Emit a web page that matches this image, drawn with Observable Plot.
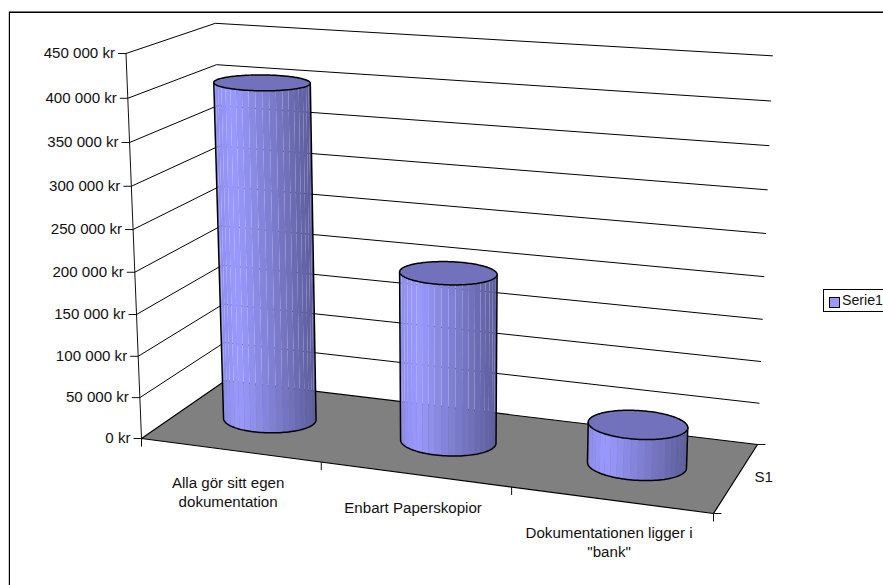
<!DOCTYPE html>
<html>
<head>
<meta charset="utf-8">
<script src="https://cdn.jsdelivr.net/npm/d3@7"></script>
<script src="https://cdn.jsdelivr.net/npm/@observablehq/plot@0.6"></script>
<style>
  html, body { margin: 0; padding: 0; background: #fff; overflow: hidden; }
  body { width: 883px; height: 585px; position: relative; font-family: "Liberation Sans", Arial, sans-serif; }
  #frame { position: absolute; left: 9px; top: 12px; width: 900px; height: 600px; border: 1px solid #000; box-sizing: border-box; box-shadow: -1px 0 0 #ccc, 0 -1px 0 #777; }
  #chart { position: absolute; left: 0; top: 0; }
  #legend { position: absolute; left: 823px; top: 289px; width: 80px; height: 23px; border: 1px solid #000; box-sizing: border-box; background: #fff; color: #111; font-size: 14.2px; line-height: 23px; white-space: nowrap; }
  #legend i { position: absolute; left: 5px; top: 7px; width: 9px; height: 9px; border: 1px solid #000; background: #9999ff; }
  #legend span { position: absolute; left: 18px; top: -1px; }
</style>
</head>
<body>
<div id="frame"></div>
<div id="chart"></div>
<div id="legend"><i></i><span>Serie1</span></div>
<script>
// Chart values
const categories = ["Alla gör sitt egen\ndokumentation", "Enbart Paperskopior", "Dokumentationen ligger i\n\"bank\""];
const values = [405000, 202000, 48000];
const valueTicks = [0, 50000, 100000, 150000, 200000, 250000, 300000, 350000, 400000, 450000];
const maxValue = 450000;
const seriesName = "S1";

// Where the corners of the 3D box land on the page
const camera = {
  floorFrontLeft: [141, 438], floorFrontRight: [713, 513],
  floorBackRight: [757, 444], floorBackLeft: [225, 380],
  topFrontLeft: [125.5, 53], heightPerspective: -0.05,
  backRightTrim: [-2, -3.5]
};
const labelDrop = [41, 32, 41.5];
const cylinderRadius = {u: 0.083, v: 0.21};
const cylinderShift = -0.002;
const facetCount = 22;

// Projective map: u along categories, v along depth, w as share of the value axis
const project = (() => {
  const [[x0, y0], [x1, y1], [x2, y2], [x3, y3]] =
    [camera.floorFrontLeft, camera.floorFrontRight, camera.floorBackRight, camera.floorBackLeft];
  const dx1 = x1 - x2, dx2 = x3 - x2, sx = x0 - x1 + x2 - x3;
  const dy1 = y1 - y2, dy2 = y3 - y2, sy = y0 - y1 + y2 - y3;
  const den = dx1 * dy2 - dx2 * dy1;
  const g = (sx * dy2 - dx2 * sy) / den, h = (dx1 * sy - sx * dy1) / den;
  const a = x1 - x0 + g * x1, b = x3 - x0 + h * x3;
  const d = y1 - y0 + g * y1, e = y3 - y0 + h * y3;
  const c3 = camera.heightPerspective;
  const a3 = camera.topFrontLeft[0] * (1 + c3) - x0;
  const b3 = camera.topFrontLeft[1] * (1 + c3) - y0;
  const [tx, ty] = camera.backRightTrim;
  return (u, v, w) => {
    const q = 1 + g * u + h * v + c3 * w;
    return {
      x: (x0 + a * u + b * v + a3 * w) / q + tx * u * v * w,
      y: (y0 + d * u + e * v + b3 * w) / q + ty * u * v * w
    };
  };
})();
const share = (value) => value / maxValue;

// Walls: one polyline per value tick, front-left to back-left to back-right
const gridlines = valueTicks.filter((t) => t > 0).flatMap((t) => [
  {t, ...project(0, 0, share(t))}, {t, ...project(0, 1, share(t))}, {t, ...project(1, 1, share(t))}
]);
const floor = [[0, 0], [1, 0], [1, 1], [0, 1], [0, 0]].map(([u, v]) => project(u, v, 0));
const valueAxis = valueTicks.map((t) => {
  const p = project(0, 0, share(t));
  return {t, x: p.x, y: p.y, label: `${d3.format(",")(t).replace(/,/g, "\u00a0")} kr`};
});
const axisLine = [project(0, 0, share(maxValue)), project(0, 0, 0)];
const categoryTicks = [0, 1, 2, 3].map((i) => project(i / 3, 0, 0));
const categoryLabels = categories.map((name, i) => {
  const p = project((i + 0.5) / 3, 0, 0);
  return {name, x: p.x, y: p.y + labelDrop[i]};
});
const depthTicks = [0, 1].map((v) => project(1, v, 0));
const depthLabel = {...project(1, 0.5, 0), name: seriesName};

// Cylinder geometry
const steps = 180;
const ringPoint = (i, theta, w) => project((i + 0.5) / 3 + cylinderShift + cylinderRadius.u * Math.cos(theta), 0.5 + cylinderRadius.v * Math.sin(theta), w);
const thetas = d3.range(steps + 1).map((k) => (k / steps) * 2 * Math.PI);
const shade = d3.scaleLinear().domain([0, 0.18, 1]).range(["#8c8cec", "#9a9aff", "#5c5c9c"]).interpolate(d3.interpolateRgb);

const facets = [], silhouettes = [], tops = [];
values.forEach((value, i) => {
  const w = share(value);
  // Visible side runs between the leftmost and rightmost points of the base ring, through the front
  const xs = thetas.map((t) => ringPoint(i, t, 0).x);
  const left = thetas[d3.minIndex(xs)], right = thetas[d3.maxIndex(xs)];
  const start = left > right ? left : left + 2 * Math.PI;
  const end = right < start ? right + 2 * Math.PI : right;
  const sweep = d3.range(facetCount + 1).map((k) => start + ((end - start) * k) / facetCount);
  sweep.slice(0, -1).forEach((a, k) => {
    const b = sweep[k + 1];
    const xa = ringPoint(i, a, 0).x, xb = ringPoint(i, b, 0).x;
    const pos = ((xa + xb) / 2 - d3.min(xs)) / (d3.max(xs) - d3.min(xs));
    const color = shade(pos);
    [ringPoint(i, a, 0), ringPoint(i, a, w), ringPoint(i, b, w), ringPoint(i, b, 0), ringPoint(i, a, 0)]
      .forEach((p) => facets.push({...p, id: `${i}-${k}`, color}));
  });
  const arc = d3.range(61).map((k) => start + ((end - start) * k) / 60);
  [ringPoint(i, start, w), ...arc.map((t) => ringPoint(i, t, 0)), ringPoint(i, end, w)]
    .forEach((p) => silhouettes.push({...p, i}));
  thetas.forEach((t) => tops.push({...ringPoint(i, t, w), i}));
});

const chart = Plot.plot({
  width: 883,
  height: 585,
  margin: 0,
  style: {background: "transparent", fontFamily: "'Liberation Sans', Arial, sans-serif", overflow: "hidden"},
  x: {domain: [0, 883], range: [0, 883], axis: null},
  y: {domain: [0, 585], range: [0, 585], axis: null},
  marks: [
    Plot.line(gridlines, {x: "x", y: "y", z: "t", stroke: "#000", strokeWidth: 1, curve: "linear"}),
    Plot.line(floor, {x: "x", y: "y", fill: "#808080", stroke: "#000", strokeWidth: 1.2, curve: "linear"}),
    Plot.line(axisLine, {x: "x", y: "y", stroke: "#111", strokeWidth: 1}),
    Plot.link(valueAxis, {x1: "x", y1: "y", x2: (d) => d.x - 8, y2: "y", stroke: "#111", strokeWidth: 1}),
    Plot.link(categoryTicks, {x1: "x", y1: "y", x2: "x", y2: (d) => d.y + 8, stroke: "#111", strokeWidth: 1}),
    Plot.link(depthTicks, {x1: "x", y1: "y", x2: (d) => d.x + 8, y2: "y", stroke: "#111", strokeWidth: 1}),
    Plot.line(facets, {x: "x", y: "y", z: "id", fill: "color", stroke: "none", curve: "linear"}),
    Plot.line(silhouettes, {x: "x", y: "y", z: "i", stroke: "#000", strokeWidth: 1.5, curve: "linear"}),
    Plot.line(tops, {x: "x", y: "y", z: "i", fill: "#7272bc", stroke: "#000", strokeWidth: 1.5, curve: "linear"}),
    Plot.text(valueAxis, {x: "x", y: "y", text: "label", dx: -11, textAnchor: "end", fontSize: 15.1, fill: "#111"}),
    Plot.text(categoryLabels, {x: "x", y: "y", dx: -2, text: "name", textAnchor: "middle", lineHeight: 1.27, fontSize: 15.1, fill: "#111"}),
    Plot.text([depthLabel], {x: "x", y: "y", dx: 18, text: "name", textAnchor: "start", fontSize: 15.1, fill: "#111"})
  ]
});
document.getElementById("chart").appendChild(chart);
</script>
</body>
</html>
